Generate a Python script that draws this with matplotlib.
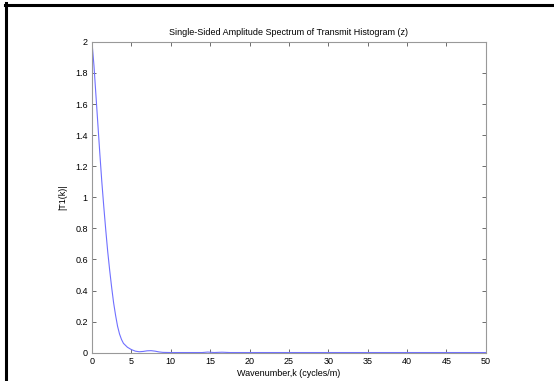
import matplotlib.pyplot as plt
from matplotlib.lines import Line2D

# values
wavenumber = [0, 0.25, 0.5, 0.75, 1.0, 1.25, 1.5, 1.75, 2.0, 2.25, 2.5, 2.75, 3.0,
              3.25, 3.5, 3.75, 4.0, 4.5, 5.0, 5.5, 6.0, 6.5, 7.0, 7.5, 8.0, 8.5,
              9.0, 10, 12, 14, 14.7, 15.5, 16.5, 17.5, 19, 25, 30, 35, 40, 45, 50]
amplitude = [2.0, 1.85, 1.66, 1.47, 1.28, 1.1, 0.94, 0.79, 0.65, 0.53, 0.42, 0.32, 0.24,
             0.17, 0.12, 0.085, 0.06, 0.035, 0.02, 0.01, 0.006, 0.008, 0.012, 0.013, 0.01, 0.005,
             0.002, 0.001, 0.001, 0.001, 0.004, 0.001, 0.003, 0.001, 0.001, 0.001, 0.001, 0.001, 0.001, 0.001, 0.001]

plt.rcParams["font.family"] = ["Liberation Sans", "DejaVu Sans"]
plt.rcParams["font.size"] = 6.5

fig = plt.figure(figsize=(5.54, 3.81), dpi=100)
ax = fig.add_axes([0.166, 0.0743, 0.711, 0.8157])
ax.plot(wavenumber, amplitude, color="#7070ff", lw=0.8)

ax.set_xlim(0, 50)
ax.set_ylim(0, 2)
ax.set_xticks(range(0, 51, 5))
ax.set_yticks([0, 0.2, 0.4, 0.6, 0.8, 1, 1.2, 1.4, 1.6, 1.8, 2])
ax.set_yticklabels(["0", "0.2", "0.4", "0.6", "0.8", "1", "1.2", "1.4", "1.6", "1.8", "2"])
ax.tick_params(direction="in", length=3, width=0.6, color="#555555",
               top=True, right=True, labelsize=6.5, pad=3)
for s in ax.spines.values():
    s.set_color("#999999")
    s.set_linewidth(0.8)

ax.set_title("Single-Sided Amplitude Spectrum of Transmit Histogram (z)", fontsize=6.5, pad=5)
ax.set_xlabel("Wavenumber,k (cycles/m)", fontsize=6.5, labelpad=2)
ax.set_ylabel("|T1(k)|", fontsize=6.5, labelpad=6)

# thick frame on the left and top edges of the picture
W, H = 554, 381
fig.add_artist(Line2D([5.5 / W, 5.5 / W], [0, 1 - 3 / H], color="black", lw=2.2,
                      transform=fig.transFigure))
fig.add_artist(Line2D([4.5 / W, 1], [1 - 4.5 / H, 1 - 4.5 / H], color="black", lw=2.2,
                      transform=fig.transFigure))

fig.savefig("out.png", dpi=100)
